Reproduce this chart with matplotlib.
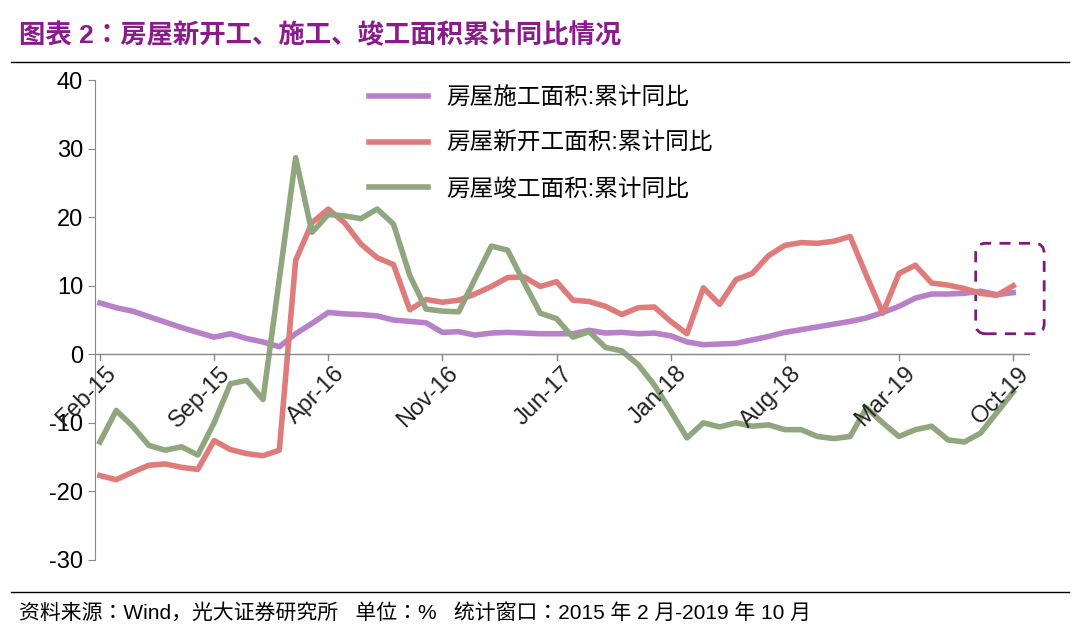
import numpy as np
import matplotlib.pyplot as plt
from matplotlib.patches import FancyBboxPatch
from matplotlib.lines import Line2D

cjk = ['Noto Sans CJK SC', 'Noto Sans CJK JP', 'Noto Sans CJK TC', 'Noto Sans CJK KR']
plt.rcParams['font.family'] = ['Liberation Sans'] + cjk
plt.rcParams['axes.unicode_minus'] = False

# 月度数据 Feb-15 .. Oct-19
construction = [7.5, 6.8, 6.3, 5.5, 4.7, 3.9, 3.2, 2.5, 3.0, 2.3, 1.8, 1.1, 3.0, 4.5, 6.1, 5.9, 5.8, 5.6, 5.0,
                4.8, 4.6, 3.2, 3.3, 2.8, 3.1, 3.2, 3.1, 3.0, 3.0, 3.0, 3.5, 3.1, 3.2, 3.0, 3.1, 2.7, 1.8, 1.4,
                1.5, 1.6, 2.1, 2.6, 3.2, 3.6, 4.0, 4.4, 4.8, 5.3, 6.1, 7.0, 8.2, 8.8, 8.8, 8.9, 9.2, 8.7, 9.0]
new_starts = [-17.7, -18.3, -17.2, -16.2, -16.0, -16.5, -16.8, -12.6, -13.9, -14.5, -14.8, -14.0, 13.7, 19.2,
              21.2, 19.2, 16.1, 14.1, 13.1, 6.5, 8.0, 7.6, 7.9, 8.8, 9.9, 11.2, 11.3, 9.9, 10.6, 7.9, 7.7, 7.0,
              5.8, 6.8, 6.9, 4.8, 3.0, 9.7, 7.3, 10.9, 11.8, 14.4, 15.9, 16.3, 16.2, 16.5, 17.2, 11.5, 6.0,
              11.8, 13.0, 10.4, 10.1, 9.6, 8.9, 8.6, 10.0]
completed = [-12.8, -8.2, -10.5, -13.3, -14.0, -13.5, -14.7, -10.0, -4.3, -3.8, -6.6, 11.0, 28.7, 17.8, 20.4,
             20.2, 19.8, 21.2, 19.0, 11.5, 6.6, 6.3, 6.2, 11.0, 15.8, 15.2, 10.5, 6.0, 5.2, 2.5, 3.3, 1.0, 0.5,
             -1.5, -4.5, -8.3, -12.2, -10.0, -10.6, -10.0, -10.5, -10.3, -11.0, -11.0, -12.0, -12.3, -12.0,
             -7.8, -10.0, -12.0, -11.0, -10.5, -12.5, -12.8, -11.5, -8.5, -5.5]
tick_labels = ['Feb-15', 'Sep-15', 'Apr-16', 'Nov-16', 'Jun-17', 'Jan-18', 'Aug-18', 'Mar-19', 'Oct-19']

x = np.arange(len(construction))

fig = plt.figure(figsize=(10.8, 6.42), dpi=100)
ax = fig.add_axes([0.088, 0.128, 0.866, 0.747])

ax.plot(x, construction, color='#B880C8', lw=4, label='房屋施工面积:累计同比')
ax.plot(x, new_starts, color='#E07B7B', lw=4, label='房屋新开工面积:累计同比')
ax.plot(x, completed, color='#8FA67F', lw=4, label='房屋竣工面积:累计同比')

ax.set_xlim(-0.3, 57.05)
ax.set_ylim(-30, 40)
ax.set_yticks(range(-30, 41, 10))
ax.tick_params(axis='y', labelsize=17, direction='out', length=5, color='#888888')
for s in ['top', 'right', 'bottom']:
    ax.spines[s].set_visible(False)
ax.spines['left'].set_color('#888888')
ax.axhline(0, color='#888888', lw=1)
ax.set_xticks([])
for i, lab in enumerate(tick_labels):
    ax.plot([i * 7, i * 7], [0, -0.8], color='#888888', lw=1)
    ax.text(i * 7 + 0.3, -1.2, lab, rotation=45, ha='right', va='top', fontsize=17,
            rotation_mode='anchor', color='#222222')

box = FancyBboxPatch((53.7, 3.0), 4.2, 13.2, boxstyle='round,pad=0,rounding_size=0.6',
                     fill=False, ls=(0, (4, 3)), lw=2, ec='#7B1C7B', clip_on=False,
                     mutation_aspect=2.5)
ax.add_patch(box)

ax.legend(loc='upper left', bbox_to_anchor=(0.27, 1.03), frameon=False, fontsize=17,
          handlelength=2.5, labelspacing=1.0)

fig.text(0.018, 0.945, '图表 2：房屋新开工、施工、竣工面积累计同比情况', color='#8B1A8B', fontsize=19,
         fontweight='bold', va='center')
fig.add_artist(Line2D([0.01, 0.99], [0.903, 0.903], color='black', lw=1))
fig.add_artist(Line2D([0.01, 0.99], [0.078, 0.078], color='black', lw=1))
fig.text(0.018, 0.045, '资料来源：Wind，光大证券研究所   单位：%   统计窗口：2015 年 2 月-2019 年 10 月',
         fontsize=15, va='center')

fig.savefig('out.png', dpi=100)
